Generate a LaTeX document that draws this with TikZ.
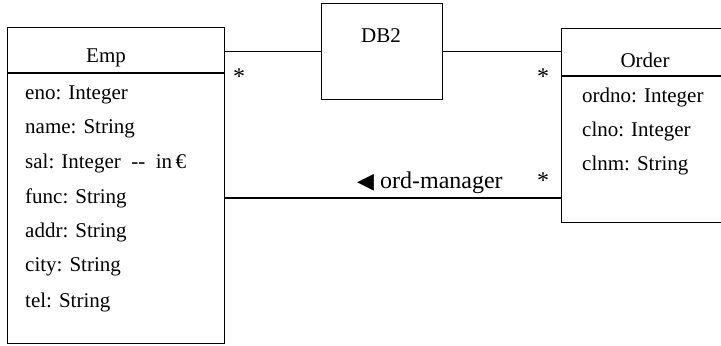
\documentclass[tikz,border=0pt]{standalone}
\usepackage{fontspec}
\setmainfont{Liberation Serif}
\newfontfamily\dejavu{DejaVu Sans}
\begin{document}
\begin{tikzpicture}[x=1bp,y=-1bp,
  box/.style={draw,line width=1.3bp,inner sep=0pt},
  lbl/.style={inner sep=0pt,font=\fontsize{21bp}{24bp}\selectfont},
  attr/.style={lbl,anchor=west},
  mult/.style={inner sep=0pt,font=\fontsize{24bp}{26bp}\selectfont},
  conn/.style={line width=1.3bp}]
\useasboundingbox (0,0) rectangle (721,345);
\clip (0,0) rectangle (721,345);
% Emp class
\node[box,anchor=north west,minimum width=217bp,minimum height=316bp] (emp) at (7,27) {};
\draw[conn] (emp.west |- 0,73) -- (emp.east |- 0,73);
\node[lbl] (empt) at (106,58) {Emp};
\node[attr] (a1) at (25,95) {eno: Integer};
\node[attr] (a2) at (25,129) {name: String};
\node[attr] (a3) at (25,163) {sal: Integer\ \ -{}-\ \ in\,€};
\node[attr] (a4) at (25,198) {func: String};
\node[attr] (a5) at (25,232) {addr: String};
\node[attr] (a6) at (25,267) {city: String};
\node[attr] (a7) at (25,302) {tel: String};
% DB2
\node[box,anchor=north west,minimum width=121bp,minimum height=96bp] (db2) at (321,3) {};
\node[lbl] (db2t) at (381,36) {DB2};
% Order class
\node[box,anchor=north west,minimum width=180bp,minimum height=194bp] (order) at (561,28) {};
\draw[conn] (order.west |- 0,76) -- (order.east |- 0,76);
\node[lbl] (ordt) at (645,60) {Order};
\node[attr] (b1) at (582,97) {ordno: Integer};
\node[attr] (b2) at (582,131) {clno: Integer};
\node[attr] (b3) at (582,165) {clnm: String};
% connectors
\draw[conn] (emp.east |- db2.west) -- (db2.west);
\draw[conn] (db2.east) -- (order.west |- db2.east);
\coordinate (c) at (400,198);
\draw[conn] (emp.east |- c) -- (order.west |- c);
% multiplicities
\node[mult] (m1) at (239,77) {*};
\node[mult] (m2) at (543,77) {*};
\node[mult] (m3) at (543,181) {*};
\node[lbl,anchor=west,font=\fontsize{24bp}{26bp}\selectfont] (om) at (357,183) {{\dejavu\fontsize{22bp}{24bp}\selectfont ◀}\ ord-manager};
\end{tikzpicture}
\end{document}
